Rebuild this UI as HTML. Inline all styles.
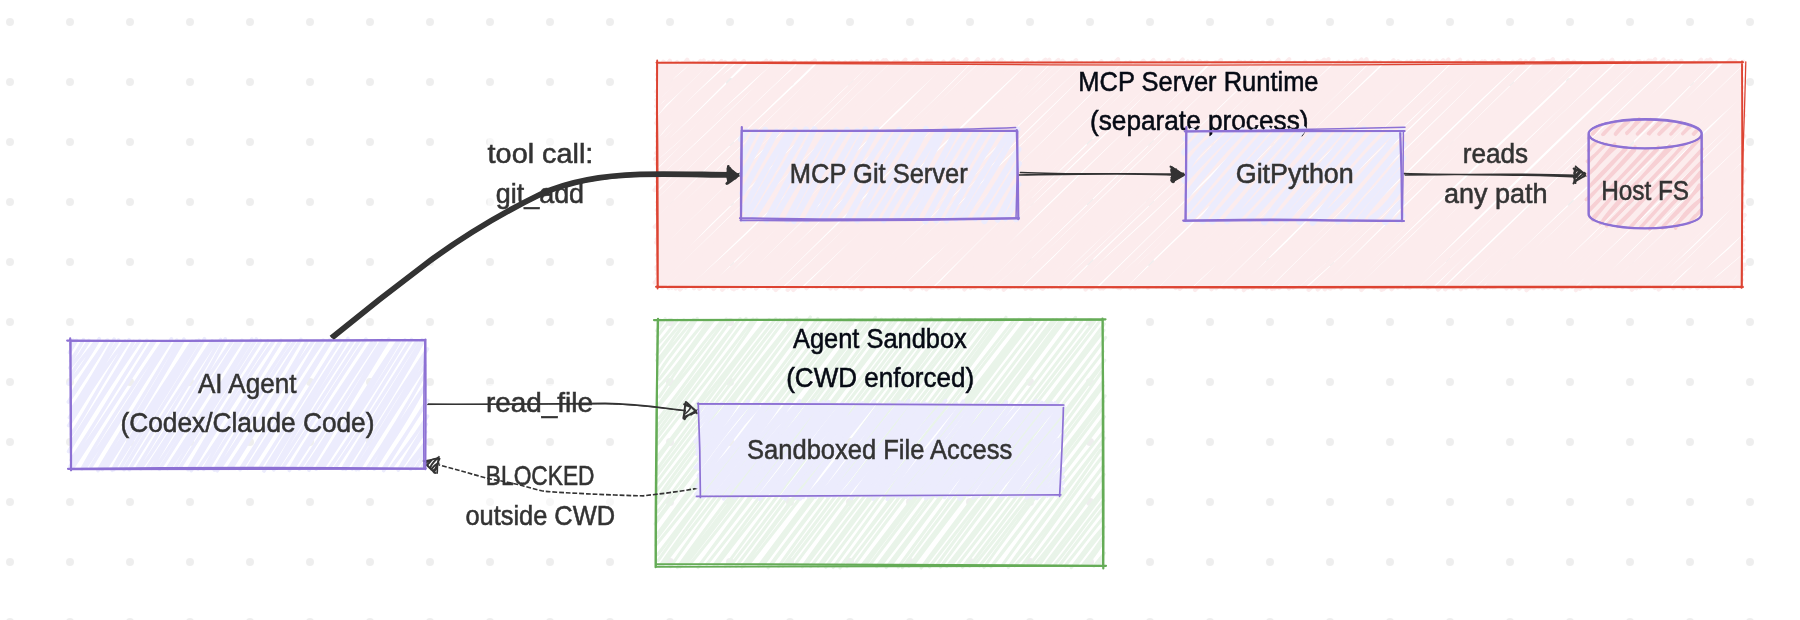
<!DOCTYPE html>
<html><head><meta charset="utf-8"><title>diagram</title>
<style>
html,body{margin:0;padding:0;background:#ffffff;}
body{width:1800px;height:620px;overflow:hidden;}
svg{display:block;will-change:transform;font-family:"Liberation Sans",sans-serif;font-size:27.5px;}
</style></head><body>
<svg width="1800" height="620" viewBox="0 0 1800 620">
<defs><pattern id="dots" x="-20" y="-8" width="60" height="60" patternUnits="userSpaceOnUse"><circle cx="30" cy="30" r="4" fill="#eeeeee"/></pattern></defs>
<rect width="1800" height="620" fill="#ffffff"/>
<rect width="1800" height="620" fill="url(#dots)"/>
<path d="M657.6 67.8C659.9 66.2 662.8 63.0 663.4 61.6M657.9 68.7C659.9 66.3 661.7 63.6 663.8 61.9M659.2 80.5C662.1 76.7 666.1 72.7 675.1 64.8M657.0 79.7C664.3 72.0 673.0 65.6 677.1 62.0M657.3 95.6C663.2 83.4 671.0 81.9 687.2 59.6M656.3 91.6C664.2 82.8 674.8 75.2 688.9 62.1M657.0 102.6C665.8 98.3 679.1 84.4 703.7 60.4M656.2 106.1C668.4 91.8 682.5 80.3 700.5 60.9M657.2 119.5C671.2 103.7 687.7 87.6 711.4 65.0M658.3 118.0C677.2 98.6 699.8 77.8 713.4 61.0M659.6 129.2C672.9 110.4 692.7 93.2 724.3 62.7M658.9 127.6C681.2 103.6 708.0 78.3 725.1 61.9M658.5 141.9C679.5 116.2 698.0 94.0 741.3 63.6M657.4 141.4C689.5 111.3 720.5 79.1 739.4 63.6M658.7 155.3C692.7 120.0 725.8 90.5 751.5 63.1M656.1 153.1C684.8 128.7 709.8 102.1 751.8 62.6M658.2 164.6C678.2 144.8 703.0 122.0 766.3 60.7M656.5 163.6C680.7 144.1 700.6 124.2 763.0 62.8M656.7 177.3C698.2 132.2 742.2 95.4 778.3 63.7M657.3 176.0C703.3 132.6 750.9 88.2 775.4 63.4M654.5 190.2C687.3 159.4 716.9 130.3 786.1 62.0M656.3 187.3C684.0 163.4 710.8 138.1 789.5 63.8M657.3 202.3C698.6 159.9 742.0 121.8 801.1 63.0M658.8 199.5C709.6 152.1 757.4 102.5 801.4 63.6M657.3 213.9C713.3 156.4 775.9 99.3 814.9 60.4M657.6 213.9C714.8 155.6 775.8 96.5 812.1 62.1M654.7 226.9C707.0 174.5 761.1 124.8 823.6 62.4M659.0 224.9C715.9 166.9 771.6 112.3 825.2 63.0M656.7 239.3C726.6 171.3 793.0 111.9 838.6 62.8M657.8 235.5C702.4 195.1 744.0 154.0 838.6 62.3M660.3 247.5C717.2 187.4 776.4 134.4 853.5 62.1M658.9 247.8C710.5 197.8 759.5 149.3 851.5 61.7M657.6 259.5C700.1 218.9 747.2 173.9 862.8 62.5M658.0 261.2C707.5 214.8 755.3 167.5 864.1 63.3M660.8 275.7C710.8 217.2 772.1 161.9 873.2 64.5M657.2 273.8C716.8 213.8 781.1 156.2 877.4 61.0M654.7 282.6C723.0 219.9 795.5 153.1 886.0 60.2M658.9 283.9C710.2 230.8 767.0 176.5 887.7 62.2M670.4 284.9C744.5 215.7 818.6 140.2 898.6 62.4M668.8 288.2C714.1 239.7 761.2 194.4 902.4 63.3M680.0 289.6C763.0 208.4 843.5 130.5 912.7 63.8M679.0 286.5C731.6 239.4 780.0 192.4 913.8 61.8M694.0 288.3C766.6 219.0 833.1 147.7 927.3 60.7M692.7 285.7C759.4 226.7 825.7 162.4 927.3 62.5M707.2 284.0C794.4 203.0 875.6 121.8 938.2 63.0M705.6 287.3C752.4 239.1 802.6 192.4 937.5 63.0M719.7 286.3C780.6 234.2 833.0 179.9 953.6 59.5M719.6 286.2C807.1 202.9 896.4 115.7 952.3 63.3M727.6 287.2C803.8 215.0 883.0 142.1 961.6 62.8M732.1 288.5C796.1 222.2 860.1 160.6 964.1 62.7M743.8 288.7C819.1 209.2 902.6 137.8 978.1 59.3M743.4 285.7C793.5 238.3 841.4 192.6 975.8 62.7M757.7 284.2C810.0 233.5 869.6 178.8 986.3 61.8M755.9 288.6C812.1 231.2 872.0 175.9 987.9 61.9M767.8 288.2C818.6 240.0 867.4 187.9 1001.7 59.6M767.2 285.8C827.1 228.3 887.8 167.7 1001.3 62.5M779.1 285.8C869.1 202.5 961.3 112.0 1012.2 61.4M779.4 287.2C845.3 226.4 908.8 165.2 1012.0 63.1M793.3 290.0C841.4 242.8 885.1 195.2 1027.4 59.6M791.5 287.4C841.0 237.4 893.0 187.1 1024.6 63.2M806.5 287.0C871.2 223.6 937.2 162.2 1037.4 64.4M806.4 288.3C882.8 211.2 959.0 136.5 1039.0 62.0M815.7 285.1C896.2 208.0 980.8 128.2 1049.3 59.8M816.4 286.9C893.6 215.7 968.5 139.1 1049.5 61.4M828.9 284.9C907.4 215.5 980.3 147.2 1062.8 60.7M830.5 288.5C916.3 202.0 1002.7 119.5 1064.0 61.9M841.1 283.8C899.8 228.2 961.2 173.1 1076.2 60.1M844.0 287.1C897.8 237.7 950.5 184.2 1074.3 63.2M853.7 288.4C937.1 205.8 1025.5 125.9 1088.5 64.6M856.6 285.7C915.7 227.8 975.4 170.3 1086.8 63.4M869.1 286.1C919.9 236.2 968.0 190.2 1103.5 64.5M868.4 286.1C947.1 213.1 1022.2 140.5 1101.4 61.3M879.1 286.3C945.2 224.5 1006.1 165.8 1111.8 65.2M881.3 285.7C950.8 216.2 1025.3 148.0 1111.8 62.0M890.2 286.4C941.8 242.3 994.9 190.7 1126.3 64.0M892.4 285.4C977.6 206.6 1064.3 125.0 1125.9 62.7M904.4 287.1C968.8 230.6 1030.1 165.9 1139.6 64.9M904.0 287.7C979.4 217.5 1050.6 148.9 1136.9 63.8M918.9 285.9C972.0 237.1 1019.3 186.8 1153.4 59.9M917.8 286.2C1007.4 202.8 1095.7 115.9 1149.1 63.4M928.1 287.3C984.8 226.7 1043.2 177.1 1165.7 63.3M929.7 287.3C991.2 225.6 1050.1 168.3 1161.6 61.9M941.5 287.9C1011.3 219.5 1082.8 153.1 1175.9 62.1M943.4 287.8C1007.7 224.3 1074.5 160.4 1175.0 62.1M957.7 285.8C1023.1 220.2 1099.6 151.7 1188.4 63.9M953.8 286.8C1015.4 230.0 1074.6 172.3 1187.8 61.4M970.6 288.1C1029.3 229.1 1086.5 172.2 1201.8 62.7M966.3 287.1C1059.4 198.5 1145.6 113.9 1199.7 60.9M977.0 283.9C1048.3 222.6 1110.7 163.9 1215.8 62.1M981.3 286.0C1038.2 230.4 1093.1 175.6 1213.9 63.9M989.9 288.5C1045.0 238.1 1104.1 183.4 1222.8 63.6M991.6 286.4C1083.6 200.8 1172.1 113.9 1225.7 63.2M1003.7 289.8C1093.4 202.1 1180.9 116.2 1240.8 61.9M1005.3 286.3C1075.1 221.4 1145.7 151.0 1238.5 61.5M1014.4 286.7C1072.5 230.7 1128.9 178.1 1248.0 62.7M1018.4 287.1C1094.6 213.5 1171.8 138.5 1251.6 61.2M1031.7 288.9C1107.8 213.3 1180.7 140.9 1263.1 62.3M1030.2 288.2C1076.6 238.4 1124.3 193.0 1262.4 62.1M1042.7 288.9C1088.8 236.2 1139.2 187.3 1273.9 63.1M1041.1 288.0C1113.4 217.2 1184.3 150.1 1276.2 63.2M1051.9 286.9C1121.3 226.7 1180.8 161.9 1289.2 59.3M1054.5 286.3C1110.6 231.5 1167.1 178.7 1288.4 63.1M1070.2 286.1C1139.6 220.6 1213.7 144.7 1299.4 63.3M1068.5 287.3C1118.6 238.4 1166.2 192.1 1299.6 63.2M1077.9 285.1C1134.5 234.1 1189.4 185.4 1313.7 64.7M1080.5 286.6C1135.7 233.2 1191.4 179.9 1312.2 63.7M1091.4 288.7C1158.6 226.5 1217.4 161.5 1324.2 59.6M1092.4 285.5C1180.3 200.3 1266.8 115.4 1325.3 60.8M1103.2 288.5C1179.3 214.4 1248.2 145.8 1338.9 61.7M1104.1 286.5C1166.8 224.4 1230.7 164.1 1337.7 63.3M1118.5 288.1C1196.1 215.6 1269.2 139.0 1347.3 61.8M1116.7 287.0C1183.3 223.8 1248.5 162.3 1348.9 62.8M1130.3 288.3C1192.9 229.6 1251.8 167.3 1361.5 59.4M1130.0 286.9C1196.5 223.1 1260.8 160.3 1363.7 62.5M1145.2 286.1C1198.0 236.1 1254.5 180.7 1375.7 61.7M1143.5 286.6C1210.4 220.4 1273.8 158.3 1374.3 61.8M1153.0 283.7C1211.7 231.9 1265.2 179.0 1388.4 62.6M1156.2 286.5C1229.5 213.8 1305.0 140.2 1388.0 62.9M1167.6 286.1C1219.2 236.6 1274.8 181.1 1398.2 61.2M1165.7 285.6C1220.6 236.4 1275.5 182.7 1400.7 62.2M1179.7 288.9C1267.9 205.5 1354.0 121.5 1411.2 61.2M1179.9 286.7C1260.7 206.8 1343.0 128.4 1411.1 61.9M1195.0 290.1C1247.0 234.6 1304.0 181.0 1424.1 65.1M1190.9 285.5C1286.0 197.4 1380.8 106.0 1424.2 60.8M1206.8 285.6C1268.6 224.7 1335.0 165.3 1436.6 63.6M1203.5 285.7C1276.6 218.3 1347.1 148.4 1436.7 60.7M1217.0 286.1C1292.1 212.3 1366.5 144.7 1448.5 59.5M1216.1 288.2C1272.1 231.3 1328.2 178.1 1448.3 62.5M1232.8 286.6C1289.2 229.4 1344.4 167.5 1460.1 59.8M1228.9 287.0C1278.6 236.6 1331.7 187.7 1462.3 63.3M1243.8 290.2C1303.2 225.6 1370.3 161.1 1473.1 65.0M1241.7 286.6C1289.8 243.3 1336.5 196.7 1474.2 61.6M1252.6 288.6C1306.4 237.9 1355.0 185.0 1484.8 61.3M1254.2 286.4C1323.4 224.2 1388.9 159.6 1486.6 63.1M1266.4 288.3C1329.4 222.5 1399.2 162.7 1498.5 60.2M1267.4 286.6C1328.4 226.7 1391.5 167.9 1500.8 62.7M1279.1 288.1C1329.3 235.3 1379.9 186.7 1512.6 62.4M1279.8 287.3C1328.3 239.7 1374.9 196.1 1512.9 61.7M1295.1 286.9C1353.8 227.9 1421.8 165.5 1526.8 64.2M1293.1 287.7C1359.3 222.1 1430.3 153.2 1525.8 61.3M1304.3 285.3C1356.1 239.8 1405.8 189.5 1539.7 64.2M1302.9 286.5C1359.8 238.2 1410.9 184.3 1536.7 63.4M1317.7 289.5C1366.1 238.2 1415.6 191.5 1546.4 61.3M1317.2 287.6C1376.5 227.7 1439.4 169.7 1548.4 61.0M1330.6 288.5C1393.0 222.5 1456.4 160.4 1562.9 61.8M1329.4 288.4C1414.0 206.1 1498.3 123.9 1561.3 63.5M1341.1 288.6C1420.7 209.3 1495.2 133.8 1573.1 61.9M1342.4 286.2C1433.4 197.1 1525.9 109.6 1574.3 61.8M1356.9 284.3C1427.2 216.5 1503.6 147.0 1586.0 64.9M1354.2 286.5C1447.0 198.2 1538.4 111.5 1588.5 63.9M1370.0 284.2C1451.0 203.3 1537.3 119.9 1602.7 60.4M1367.6 285.6C1431.0 226.4 1496.3 165.1 1598.7 63.3M1381.6 289.9C1434.1 235.8 1482.6 188.8 1612.2 59.8M1378.0 287.2C1462.2 205.2 1546.7 125.5 1612.9 61.5M1391.5 289.3C1446.0 234.3 1503.0 180.4 1624.6 61.7M1391.5 285.4C1464.0 213.5 1541.0 140.7 1623.3 62.4M1406.5 284.0C1462.1 225.1 1521.7 166.9 1639.6 61.2M1405.7 287.2C1472.8 219.6 1541.8 150.8 1637.7 61.5M1416.4 284.1C1488.2 218.1 1555.0 154.9 1648.7 60.5M1416.6 286.1C1469.2 238.4 1518.0 188.7 1650.9 60.7M1427.9 287.7C1492.9 225.0 1555.8 165.0 1663.5 59.4M1430.1 286.8C1482.3 238.6 1531.3 190.4 1660.5 63.9M1442.6 284.1C1503.3 223.5 1563.7 167.6 1677.1 63.2M1441.9 285.4C1488.1 239.6 1535.5 195.5 1675.7 60.9M1453.7 284.5C1535.0 210.1 1614.9 127.3 1689.0 63.4M1453.5 288.5C1528.1 220.5 1599.0 149.3 1686.9 63.4M1465.8 288.1C1540.0 221.1 1606.9 154.2 1701.1 59.7M1465.6 286.5C1548.0 207.8 1630.5 130.1 1698.9 62.5M1477.9 288.3C1551.1 212.1 1628.1 142.9 1710.2 59.5M1478.9 287.4C1564.7 205.6 1650.8 121.9 1711.7 61.4M1492.8 287.4C1551.2 229.3 1609.3 174.6 1726.0 64.3M1490.6 287.1C1541.7 237.7 1593.3 189.9 1725.5 63.7M1506.4 288.5C1592.3 198.6 1681.5 112.8 1735.1 60.9M1503.3 286.3C1563.2 230.8 1623.5 173.4 1737.9 63.5M1519.2 288.8C1593.0 207.9 1675.6 134.4 1743.9 67.5M1518.0 287.0C1582.8 222.2 1647.2 160.9 1740.7 70.7M1526.5 290.2C1610.4 210.9 1689.8 131.3 1739.2 78.2M1530.1 287.9C1594.0 220.2 1661.0 155.9 1742.1 80.8M1538.7 286.9C1610.5 224.1 1678.9 152.6 1740.7 92.3M1542.9 288.4C1609.2 220.6 1674.8 153.2 1742.3 93.9M1556.9 283.9C1625.6 219.1 1703.8 143.4 1738.9 107.5M1554.8 288.0C1615.7 224.0 1681.8 165.6 1743.1 105.1M1567.0 287.2C1600.1 254.5 1636.5 217.2 1744.5 115.3M1567.3 286.5C1606.8 248.6 1647.2 209.1 1741.2 118.7M1580.0 288.9C1622.1 242.5 1666.0 202.6 1740.2 128.9M1580.2 288.6C1643.8 223.6 1710.1 163.0 1741.5 130.4M1593.4 283.8C1638.7 239.9 1683.8 197.1 1739.7 139.6M1590.8 288.4C1645.5 231.8 1704.7 175.4 1740.8 142.1M1601.4 285.5C1660.7 232.5 1709.6 182.3 1739.1 152.3M1604.0 287.2C1638.4 255.5 1671.7 222.4 1741.1 152.2M1615.2 287.4C1663.3 243.0 1716.1 194.2 1742.7 167.9M1617.9 285.4C1654.7 250.0 1689.2 213.7 1740.9 166.4M1629.8 286.8C1653.7 257.2 1682.1 230.7 1740.4 178.4M1628.2 286.5C1661.1 257.0 1690.6 227.0 1741.9 177.1M1639.1 287.1C1682.8 247.2 1716.4 212.4 1740.3 190.3M1639.9 287.6C1663.2 265.1 1687.0 243.8 1742.0 189.3M1653.5 284.3C1676.0 265.0 1699.3 246.6 1740.6 201.4M1654.8 288.0C1671.6 270.3 1691.5 250.2 1742.2 203.2M1665.2 285.0C1683.4 270.3 1706.8 252.3 1744.7 215.0M1667.2 285.9C1694.2 259.6 1719.6 235.3 1740.4 213.9M1679.6 284.2C1699.7 264.2 1722.1 249.5 1740.8 223.8M1679.1 285.8C1700.6 264.2 1722.5 245.8 1742.9 227.1M1690.2 283.9C1705.6 273.0 1722.7 255.9 1743.8 239.2M1690.2 287.5C1707.4 273.8 1721.6 258.9 1743.3 237.2M1702.2 287.1C1718.4 269.6 1735.9 258.3 1741.8 251.6M1702.8 286.4C1712.0 276.2 1722.6 268.5 1743.5 250.4M1713.7 286.6C1723.7 282.3 1729.3 275.3 1744.9 264.6M1716.2 286.0C1723.4 279.0 1727.9 274.4 1741.3 262.7M1728.4 286.8C1731.9 282.3 1739.7 279.2 1740.4 272.5M1727.9 286.9C1732.1 284.2 1735.2 280.7 1742.3 274.3M1741.0 286.9C1741.3 286.8 1741.4 286.7 1742.1 286.1M1741.0 287.0C1741.3 286.8 1741.7 286.4 1742.0 286.2" fill="none" stroke="#fceced" stroke-width="4.15" stroke-linecap="round"/>
<path d="M657.2 74.5C661.1 68.7 666.9 64.3 669.8 60.7M657.5 74.7C659.9 71.0 663.4 69.3 670.2 62.5M658.5 85.2C663.6 77.7 676.6 70.0 682.1 63.2M658.5 85.4C662.3 79.5 667.9 74.4 682.7 63.3M657.8 96.9C664.7 90.8 678.3 81.8 693.2 62.6M656.4 100.0C670.3 84.0 684.6 71.4 695.5 63.8M656.5 113.6C671.6 93.4 685.0 80.4 705.4 65.1M657.6 109.4C677.4 93.1 695.9 73.0 708.7 62.1M656.9 123.8C681.8 101.4 700.6 77.3 719.3 64.1M656.2 123.0C676.3 103.6 697.4 83.8 721.4 60.9M657.2 136.0C672.7 116.0 696.3 96.6 734.8 60.4M657.2 133.2C683.8 110.3 708.9 86.2 732.5 62.4M657.5 148.4C677.0 128.4 693.5 108.2 743.9 61.0M657.2 147.7C691.9 114.0 725.4 80.0 743.5 61.4M655.0 159.1C687.9 132.1 716.6 103.1 755.7 65.5M656.8 158.2C689.8 127.7 722.3 95.9 757.0 62.9M660.6 173.4C698.1 126.8 743.9 86.0 771.3 62.1M658.6 171.1C696.0 132.5 732.9 94.7 771.0 61.3M657.1 181.9C698.8 144.5 741.0 102.6 784.8 65.4M658.4 183.9C706.3 135.0 758.0 88.4 782.4 61.4M658.1 194.3C692.1 157.9 731.0 123.9 792.6 64.4M657.9 194.6C699.9 154.3 744.4 111.7 794.5 60.9M656.8 210.0C701.7 169.6 742.6 126.8 805.1 63.0M657.6 205.6C687.7 176.0 719.8 145.8 806.6 62.7M660.6 217.4C706.7 171.4 758.1 125.4 818.4 65.3M658.8 217.8C690.4 188.1 723.5 153.4 821.1 63.8M658.9 234.0C697.5 193.6 732.8 157.6 835.4 63.3M658.3 229.6C725.1 165.8 788.6 102.2 832.7 61.1M658.0 245.0C725.2 175.0 794.0 111.0 845.2 62.4M656.1 242.5C729.6 173.3 801.4 103.1 845.6 63.3M657.0 255.1C720.9 193.7 782.4 133.2 859.9 64.3M658.6 255.8C733.3 185.1 804.0 112.9 856.7 61.3M656.6 269.6C733.9 193.5 809.5 121.6 866.6 62.9M656.4 267.3C741.3 185.4 825.1 101.6 871.0 61.5M657.0 279.0C740.0 203.2 819.1 125.8 883.6 60.2M658.7 280.1C740.7 198.4 825.3 119.1 882.5 63.8M662.1 287.1C756.0 202.3 843.4 115.7 897.5 61.6M661.3 285.9C740.8 208.7 822.7 129.7 894.5 61.8M671.8 287.7C748.5 216.4 827.3 140.9 905.4 59.6M675.7 288.5C749.8 216.6 826.5 140.7 907.8 63.1M683.9 286.2C757.0 218.0 827.6 143.8 917.0 59.8M685.5 287.6C751.5 223.4 819.6 158.5 920.3 62.7M699.3 288.8C788.5 204.1 877.4 119.2 932.2 63.2M700.6 288.1C747.8 238.2 797.8 192.7 931.0 60.8M713.5 289.0C759.7 236.9 810.7 187.6 944.0 64.2M710.1 286.7C766.5 238.6 815.9 188.3 943.6 61.4M722.2 289.7C779.0 234.8 836.0 181.9 953.7 61.5M723.7 286.9C807.6 207.9 889.3 130.5 957.8 61.1M734.0 289.3C788.5 239.9 838.8 193.3 966.4 59.3M737.1 288.1C814.8 211.8 893.4 137.5 967.9 63.1M751.3 286.9C822.6 212.5 905.1 137.0 980.7 65.4M748.3 286.2C826.9 211.3 902.3 139.5 982.1 62.9M761.2 284.5C809.8 239.6 860.4 188.5 993.6 59.7M762.7 285.9C844.7 206.6 928.8 128.3 993.6 61.2M775.7 290.0C861.6 202.9 942.8 122.1 1004.8 62.5M774.0 288.4C833.1 232.4 890.9 175.8 1007.8 63.2M787.6 289.9C862.8 216.8 933.7 150.9 1022.3 63.5M786.9 286.9C848.1 229.9 907.8 168.6 1017.8 63.1M799.3 286.0C854.6 234.6 911.1 177.3 1032.2 65.2M798.5 287.0C854.5 235.3 907.7 184.4 1032.0 62.3M812.2 286.4C890.4 211.0 959.3 138.0 1045.5 59.6M812.0 285.4C893.9 211.6 975.7 131.6 1045.6 62.5M825.3 284.7C887.0 222.5 950.0 159.1 1058.4 60.0M824.5 285.6C890.7 226.8 953.0 165.4 1057.4 60.7M835.6 288.6C881.7 239.2 928.5 193.0 1071.5 62.2M836.1 288.5C914.4 207.9 997.8 130.7 1068.7 63.4M851.2 287.1C910.0 230.8 964.2 173.0 1079.7 63.1M850.0 288.1C908.1 228.4 969.3 168.2 1081.5 63.0M861.1 289.4C939.2 213.8 1014.9 138.0 1093.7 63.5M860.0 285.5C929.8 223.3 997.1 158.1 1093.3 62.1M870.8 286.7C944.8 222.8 1010.8 158.0 1107.8 64.4M874.9 286.6C963.0 204.2 1048.9 123.2 1106.4 63.4M885.1 284.3C937.1 234.1 992.4 182.0 1118.1 59.2M886.6 286.5C954.1 223.8 1025.2 155.8 1119.6 62.6M895.9 285.2C962.0 232.1 1016.6 176.7 1130.5 64.6M900.1 285.8C958.4 227.3 1021.2 169.5 1130.4 62.0M910.9 289.6C966.9 238.8 1017.4 185.2 1143.5 60.6M909.9 287.0C959.0 240.1 1005.8 193.4 1144.8 62.2M926.4 289.4C968.6 240.6 1016.7 194.5 1155.8 64.6M922.4 288.3C984.0 229.8 1046.9 172.1 1155.4 62.4M937.0 287.3C997.8 229.4 1053.7 172.4 1168.9 60.0M937.7 287.0C995.9 225.9 1057.5 167.2 1168.6 63.9M948.5 285.1C1034.7 206.1 1119.7 125.9 1182.7 59.4M948.7 288.1C1006.5 233.2 1064.5 177.4 1182.6 63.9M964.4 289.5C1018.6 225.9 1082.4 168.6 1194.5 62.4M960.6 286.5C1032.8 215.0 1104.6 146.7 1192.4 61.5M974.8 287.8C1036.7 224.2 1096.3 163.6 1204.7 62.4M972.2 286.1C1045.7 220.1 1119.4 150.7 1206.9 62.0M987.4 288.3C1067.8 207.8 1151.4 129.5 1221.0 60.0M985.2 287.9C1048.8 226.6 1112.3 163.4 1219.4 61.5M997.3 287.8C1070.2 217.9 1135.2 152.5 1229.2 62.9M1000.3 286.4C1052.0 234.4 1107.3 181.9 1230.6 63.0M1011.5 286.7C1100.5 202.7 1185.7 119.9 1241.4 63.6M1010.2 287.2C1094.1 210.8 1176.7 130.3 1244.9 61.9M1025.6 288.9C1108.3 204.0 1185.5 123.7 1258.0 62.4M1025.1 287.2C1093.6 222.0 1164.1 154.8 1256.5 63.3M1036.3 285.7C1109.2 217.7 1189.7 145.2 1270.6 61.7M1036.1 287.6C1125.1 200.6 1216.9 114.5 1269.6 62.2M1047.1 283.9C1119.8 220.6 1186.7 154.8 1278.5 59.7M1048.0 286.8C1105.6 230.1 1160.9 174.7 1280.2 62.5M1061.1 284.8C1114.2 238.4 1165.6 184.5 1293.7 64.9M1060.6 288.4C1135.7 212.9 1211.6 142.2 1294.7 62.8M1071.8 284.6C1161.9 202.5 1254.4 116.3 1306.5 63.5M1073.6 285.6C1155.8 203.0 1242.9 122.8 1305.1 61.8M1085.5 289.6C1178.7 199.1 1271.1 110.1 1320.4 61.6M1086.4 286.5C1152.8 221.1 1219.8 155.4 1317.3 60.9M1101.2 288.2C1163.2 226.8 1227.2 166.1 1328.5 59.1M1100.0 288.6C1190.6 197.6 1282.1 110.7 1329.9 63.3M1113.4 286.7C1194.6 202.4 1281.0 117.8 1342.9 62.2M1111.2 285.6C1157.1 243.1 1206.4 199.0 1344.6 63.3M1120.3 288.2C1194.8 218.5 1268.2 145.7 1355.6 60.6M1124.6 286.4C1178.2 230.7 1232.8 178.1 1355.5 63.9M1138.6 287.3C1211.9 213.3 1287.5 138.2 1366.5 59.2M1135.1 288.3C1217.5 208.4 1297.7 131.0 1367.6 61.4M1151.3 284.7C1238.2 197.6 1324.9 112.7 1379.3 62.9M1147.7 287.9C1205.1 235.5 1261.2 177.7 1380.3 62.3M1163.4 286.1C1242.0 208.7 1324.6 131.6 1393.6 60.2M1162.3 286.7C1210.7 236.0 1263.6 187.4 1393.3 60.9M1175.6 288.1C1263.3 199.6 1352.9 106.5 1408.2 62.4M1172.6 285.9C1250.6 211.0 1329.6 135.0 1407.0 61.8M1185.6 285.1C1256.5 221.6 1324.7 150.9 1417.7 61.0M1185.9 286.5C1274.1 201.0 1364.5 115.3 1419.1 61.1M1198.5 285.4C1274.4 214.1 1349.7 138.9 1429.8 61.3M1196.8 286.6C1290.1 198.6 1383.6 113.2 1430.0 62.6M1211.4 289.2C1267.0 234.6 1318.7 185.3 1443.2 60.2M1209.5 285.4C1288.2 213.5 1361.5 141.9 1443.4 60.7M1224.4 287.2C1285.3 230.2 1344.0 171.0 1456.2 63.1M1223.3 287.3C1296.4 214.6 1373.0 141.4 1456.7 61.5M1234.9 286.0C1297.1 224.4 1367.6 155.6 1468.1 61.6M1235.4 288.6C1293.1 229.0 1351.0 172.9 1468.2 62.6M1248.1 287.7C1308.8 225.5 1377.5 166.3 1481.3 63.1M1246.8 286.8C1296.6 243.0 1343.5 197.2 1482.0 61.5M1263.4 286.9C1318.7 229.7 1376.7 170.6 1492.5 62.2M1259.1 287.1C1325.2 222.7 1390.0 160.9 1492.4 61.5M1272.0 289.1C1340.3 220.1 1413.9 152.6 1506.5 64.5M1274.5 288.5C1340.6 221.8 1408.9 156.6 1505.6 62.8M1288.9 288.5C1369.3 204.9 1453.0 121.8 1520.4 60.2M1285.4 285.6C1359.5 212.8 1435.8 140.9 1517.0 62.1M1298.9 284.0C1381.4 209.3 1466.4 123.9 1533.6 59.1M1297.4 285.8C1374.1 218.2 1445.7 145.8 1530.9 61.4M1308.6 289.9C1404.2 199.7 1492.3 115.4 1543.9 62.9M1309.6 288.1C1377.2 226.1 1441.9 162.4 1542.9 62.6M1324.7 289.4C1384.8 232.0 1440.7 172.0 1552.9 59.2M1324.4 287.6C1398.8 215.5 1472.9 143.7 1555.3 62.4M1336.0 286.2C1392.0 227.6 1457.7 171.5 1567.6 60.1M1334.3 287.6C1414.5 214.4 1489.1 141.0 1568.3 61.4M1349.3 286.7C1434.5 201.4 1528.8 110.9 1578.5 64.0M1348.6 286.6C1403.5 231.4 1463.0 174.4 1581.4 62.5M1361.3 290.0C1441.6 205.6 1530.8 124.4 1593.7 64.2M1359.9 286.8C1424.3 227.3 1489.9 165.2 1593.7 63.2M1374.2 287.9C1432.1 229.6 1488.3 172.3 1606.9 61.8M1371.4 286.2C1421.0 238.1 1470.5 189.0 1606.2 62.8M1383.4 289.1C1439.6 240.3 1495.7 188.1 1621.2 63.3M1385.3 287.6C1460.7 211.9 1538.6 137.2 1618.7 63.7M1400.2 284.8C1466.3 220.2 1539.3 153.2 1629.4 62.9M1397.8 287.6C1458.9 228.2 1520.6 167.8 1629.6 61.7M1413.1 285.9C1507.1 194.7 1598.0 106.0 1643.3 63.1M1409.7 287.8C1496.9 205.5 1584.1 122.2 1644.4 62.0M1424.0 286.6C1472.1 241.5 1524.1 189.9 1655.2 59.1M1423.6 285.8C1475.0 239.0 1525.4 187.1 1655.1 62.6M1438.1 289.6C1500.5 219.1 1567.4 151.7 1667.4 61.9M1436.9 287.7C1507.3 216.9 1582.3 142.4 1668.6 61.1M1445.2 289.4C1528.1 210.7 1604.7 134.1 1681.4 60.6M1449.2 287.6C1541.2 199.7 1631.9 113.6 1679.2 63.3M1460.8 289.2C1533.2 217.3 1600.3 152.1 1691.9 63.1M1461.3 287.8C1546.1 205.9 1633.0 124.3 1694.2 62.2M1471.2 284.5C1537.5 225.1 1603.0 159.3 1706.8 60.2M1471.7 287.1C1556.6 209.8 1638.1 131.3 1704.1 62.6M1488.5 283.8C1575.9 201.0 1664.7 119.7 1715.5 65.0M1485.0 287.9C1566.3 212.0 1644.3 138.0 1716.5 62.4M1494.9 287.2C1583.6 207.7 1666.1 131.8 1730.4 59.7M1498.8 285.4C1547.1 241.7 1593.1 196.3 1731.4 61.3M1511.4 288.2C1570.1 234.1 1631.1 171.9 1740.3 64.2M1510.7 286.4C1589.1 210.5 1671.1 129.8 1743.5 61.8M1519.9 285.8C1572.8 239.5 1625.2 189.8 1741.8 78.4M1524.3 287.0C1571.5 241.7 1621.8 194.3 1740.5 74.1M1536.8 285.4C1574.4 249.2 1616.4 207.0 1739.1 87.2M1534.0 288.2C1593.7 228.1 1652.8 170.4 1742.3 87.2M1546.2 286.1C1602.0 234.3 1656.6 187.8 1743.1 100.8M1548.2 287.9C1625.2 211.5 1704.6 138.2 1742.6 98.0M1561.6 289.3C1629.2 224.1 1695.9 155.8 1739.5 108.8M1560.3 287.1C1625.3 222.4 1688.5 159.7 1743.6 111.4M1575.9 290.2C1634.8 227.1 1697.3 171.9 1742.4 122.5M1572.0 286.6C1628.2 235.2 1684.8 182.4 1741.8 123.4M1586.1 286.0C1627.7 241.1 1671.4 201.7 1744.2 136.0M1583.8 287.4C1619.0 257.8 1651.2 224.6 1742.8 134.8M1597.4 285.2C1624.8 262.1 1655.9 228.8 1743.0 150.0M1598.9 286.9C1640.7 243.3 1682.6 204.2 1741.2 147.7M1612.8 285.7C1646.4 256.4 1679.7 222.9 1738.9 157.3M1609.2 287.0C1640.0 259.7 1667.6 234.0 1740.7 160.3M1621.2 284.7C1665.3 244.5 1710.5 206.8 1744.6 169.6M1622.5 287.3C1655.0 255.2 1686.9 223.7 1742.0 173.2M1631.8 289.7C1664.5 258.7 1690.2 231.4 1743.3 181.1M1636.5 288.3C1678.4 246.4 1719.0 205.5 1742.8 183.1M1647.6 285.7C1684.9 251.8 1720.1 215.1 1742.1 195.0M1648.1 285.8C1673.2 263.1 1694.3 240.0 1743.0 194.7M1658.6 289.5C1680.0 268.1 1702.0 247.9 1743.6 206.5M1659.9 286.9C1680.5 269.1 1699.9 250.1 1742.6 207.5M1675.2 285.1C1696.5 264.7 1720.1 243.6 1740.7 221.8M1673.3 288.2C1687.5 272.0 1706.1 255.8 1743.5 220.1M1681.8 286.4C1704.7 262.3 1729.5 241.3 1739.4 234.9M1683.4 288.2C1698.9 272.0 1711.5 259.4 1742.5 231.9M1696.9 287.5C1715.9 274.2 1730.8 255.9 1742.9 245.1M1697.3 288.2C1713.1 272.2 1727.9 255.5 1742.1 244.4M1709.0 284.8C1724.0 274.2 1735.0 265.7 1741.7 258.5M1708.9 287.6C1717.2 277.4 1727.5 271.1 1743.2 256.9M1724.1 286.7C1728.0 281.2 1731.7 274.9 1743.3 269.2M1721.6 287.0C1726.4 283.0 1733.3 277.1 1741.7 267.1M1734.3 287.6C1737.2 284.3 1738.8 282.2 1742.0 280.0M1734.7 287.1C1736.6 284.9 1738.2 283.7 1741.8 280.0" fill="none" stroke="#fceced" stroke-width="4.15" stroke-linecap="round"/>
<path d="M656.5 62.6Q1199.8 62.4 1743.2 62.1M1742.0 61.5Q1742.6 174.8 1741.6 288.0M1743.0 287.0Q1199.5 288.1 656.0 286.8M657.6 288.5Q656.4 174.5 657.2 60.5" fill="none" stroke="#dd4433" stroke-width="1.90" stroke-linecap="round"/>
<path d="M657.0 62.7Q900.0 64.2 1050.0 64.8Q1200.0 65.4 1350.0 64.8Q1500.0 64.3 1742.5 62.5M1745.8 61.8Q1744.6 110.0 1743.6 135.0Q1742.6 160.0 1742.0 287.0M1742.0 286.5Q1199.5 286.3 657.0 287.3M657.9 287.0Q658.5 174.5 656.8 62.0" fill="none" stroke="#dd4433" stroke-width="1.30" stroke-linecap="round"/>
<path d="M658.0 323.3C658.8 322.5 659.9 321.2 660.5 320.1M656.6 330.7C659.9 326.2 662.5 322.7 665.2 318.7M657.2 336.3C660.9 332.5 663.5 327.4 671.3 319.5M657.4 344.2C663.0 339.7 666.9 333.5 677.4 320.1M656.6 354.5C662.9 345.0 672.4 333.8 683.7 319.8M656.6 360.4C665.6 352.6 669.6 342.0 687.2 320.6M658.2 364.3C668.5 349.6 683.4 331.8 693.6 319.3M657.8 375.2C665.6 359.1 678.2 348.2 697.2 318.3M659.3 379.3C671.3 364.8 683.4 346.7 705.8 320.6M657.4 388.5C675.0 370.0 689.6 348.9 709.4 320.8M659.3 397.0C674.2 374.1 689.0 351.3 713.4 320.6M659.0 404.1C679.9 374.2 701.8 343.8 721.7 321.0M657.2 408.4C680.1 380.0 703.1 351.1 726.3 319.0M659.2 417.9C686.6 383.1 711.8 346.0 730.0 321.4M657.3 425.9C685.2 390.0 711.2 354.5 738.2 321.0M657.0 432.4C678.0 403.9 696.8 378.6 740.1 318.4M656.6 438.6C679.3 408.8 701.8 379.5 746.0 318.3M657.7 444.0C692.3 399.2 727.1 355.3 753.1 319.0M658.5 455.2C688.1 417.3 713.3 381.9 756.9 318.9M657.2 460.0C680.6 427.0 707.5 395.3 765.3 321.4M657.1 469.3C701.7 408.2 745.6 349.1 769.2 319.5M656.2 475.8C701.6 416.6 742.4 359.8 775.7 318.7M656.3 482.9C697.0 428.4 737.3 374.2 779.9 319.7M657.0 490.2C700.1 435.4 737.5 382.5 784.6 319.9M657.6 497.8C695.5 443.6 737.3 390.5 792.3 320.9M657.3 503.4C705.7 437.7 753.6 373.2 796.7 317.8M657.7 511.8C710.0 443.2 758.1 375.5 799.9 320.0M657.3 518.9C692.6 471.7 727.3 426.3 806.5 320.2M655.1 523.9C703.8 459.1 753.1 395.6 810.3 317.0M658.2 532.9C709.2 462.6 761.3 393.9 817.8 318.5M657.4 537.3C715.7 460.6 771.1 386.2 821.3 320.5M655.8 545.2C721.7 465.2 780.3 381.6 830.0 320.2M657.6 554.7C715.3 478.3 771.7 403.8 834.9 321.2M658.2 560.4C710.8 485.8 766.5 412.6 840.9 319.7M659.5 566.3C711.6 492.4 766.3 420.7 844.5 321.3M662.7 565.3C710.2 504.4 758.9 441.5 849.8 319.6M670.5 566.8C709.7 510.3 750.8 455.4 854.3 319.6M677.4 567.7C724.0 501.7 774.6 439.7 862.5 320.2M680.2 567.0C722.3 514.8 759.2 460.9 865.5 321.7M685.8 564.3C725.2 514.7 764.6 461.5 870.4 321.7M690.2 564.0C743.0 498.8 795.3 429.5 875.4 317.3M698.0 567.6C755.1 488.2 815.4 410.0 881.3 319.1M700.0 564.3C768.1 476.2 837.6 385.9 885.7 319.9M706.6 564.5C755.8 502.8 804.0 439.8 893.2 319.0M714.0 565.0C774.7 483.5 833.7 400.8 897.9 318.9M717.4 564.6C756.5 513.2 798.7 463.0 905.0 318.9M725.3 566.7C773.2 500.3 822.9 435.4 909.3 321.1M730.1 566.3C779.0 503.3 826.9 438.5 916.0 318.5M736.1 566.5C775.0 515.3 811.5 463.0 920.2 320.4M741.9 567.0C788.0 505.6 832.5 442.7 927.2 319.6M743.7 566.3C784.3 510.8 827.0 456.5 931.3 318.2M749.5 563.3C809.2 486.8 868.7 409.8 935.4 320.6M758.6 566.1C820.4 483.9 883.1 399.1 941.9 319.0M763.4 564.9C827.4 477.9 892.9 393.5 949.2 321.0M768.1 567.8C831.4 483.1 897.2 395.4 952.1 319.8M771.8 564.0C842.4 471.8 913.1 377.6 959.4 318.1M778.5 566.6C836.0 484.8 897.5 407.7 964.8 320.1M782.9 566.2C841.1 489.8 894.3 414.2 969.5 319.9M789.4 563.8C847.2 487.7 908.1 407.1 975.2 319.5M794.3 565.6C856.5 481.7 919.3 400.0 979.7 321.3M802.4 566.9C868.9 475.3 932.8 386.4 985.5 319.9M805.7 565.5C870.0 480.7 935.7 395.2 991.2 321.5M810.7 566.7C876.1 481.3 943.4 393.2 996.6 320.2M818.2 566.4C874.4 488.8 933.6 412.2 1001.2 319.4M822.5 563.7C893.9 468.9 966.3 371.0 1006.0 317.2M825.7 567.3C877.8 498.2 927.8 429.4 1014.0 319.9M833.1 567.5C884.1 498.0 933.4 427.0 1019.0 319.1M840.0 568.1C909.3 472.4 981.5 378.9 1026.8 319.5M842.0 564.6C898.3 491.5 952.5 422.1 1030.2 318.3M846.9 566.7C922.1 467.6 992.2 372.6 1032.9 320.0M854.9 564.2C895.4 508.6 939.2 450.9 1039.9 319.9M861.8 565.5C919.7 490.2 976.1 413.1 1046.1 320.4M865.1 565.6C903.0 514.4 943.9 463.8 1053.0 319.6M870.0 564.8C943.1 468.1 1013.3 375.2 1056.7 319.5M876.6 566.7C934.0 489.9 991.2 412.9 1061.0 319.8M881.6 564.5C929.6 503.1 974.9 440.9 1065.8 318.5M886.2 567.6C959.4 472.1 1027.9 381.7 1073.4 321.7M891.7 564.1C933.9 508.5 972.1 455.6 1075.5 317.3M898.3 567.2C966.0 474.6 1036.8 379.7 1081.6 320.7M902.4 567.7C957.7 493.0 1012.7 420.8 1089.0 320.4M908.9 566.5C952.8 508.4 992.6 453.6 1094.5 321.3M913.5 564.6C965.3 495.0 1020.4 424.7 1100.5 320.4M921.1 568.1C986.2 479.7 1052.5 394.7 1104.3 324.0M925.2 565.2C974.2 502.0 1019.3 439.6 1104.0 330.3M929.6 567.0C968.9 515.2 1007.8 467.7 1105.6 337.5M936.7 565.4C971.9 515.8 1009.6 469.0 1102.0 342.5M940.6 567.2C985.9 504.7 1028.9 448.4 1103.3 351.4M946.8 566.6C996.1 504.5 1040.7 440.8 1104.8 360.2M951.0 565.7C987.5 519.4 1021.2 473.9 1102.8 364.4M956.6 566.1C1008.5 498.7 1059.3 433.8 1101.5 371.8M962.5 567.3C1004.7 513.9 1041.5 461.9 1102.9 381.9M969.6 566.3C1018.7 501.3 1068.4 433.9 1103.3 385.7M974.4 565.1C1021.8 505.3 1071.8 439.6 1105.2 395.8M979.5 566.1C1010.7 526.1 1040.0 485.1 1103.7 401.2M984.0 567.4C1017.5 519.8 1051.3 477.1 1102.0 409.1M991.0 566.9C1023.8 523.5 1057.2 478.9 1104.4 416.7M993.8 563.6C1037.2 507.5 1079.6 450.5 1101.9 422.0M1002.2 565.4C1024.2 534.2 1048.0 501.0 1103.3 431.9M1008.4 567.4C1038.8 523.5 1072.3 481.2 1104.6 438.1M1009.9 565.6C1034.8 534.4 1054.8 505.0 1101.6 443.0M1014.9 565.8C1038.1 541.0 1055.4 515.1 1100.5 450.2M1022.6 564.9C1048.3 531.3 1072.5 495.4 1101.2 458.0M1029.0 565.5C1048.4 541.5 1065.7 516.2 1103.2 466.3M1034.4 565.1C1053.0 544.4 1071.2 517.0 1104.1 474.5M1039.4 564.9C1054.4 542.9 1070.7 524.2 1101.8 479.1M1044.7 565.6C1055.5 550.4 1069.2 532.9 1102.8 489.6M1048.7 564.6C1062.6 548.1 1076.4 528.4 1102.3 494.8M1054.2 565.3C1066.2 551.6 1075.4 536.7 1103.6 500.6M1060.2 564.5C1076.8 542.4 1092.3 521.5 1101.7 509.9M1064.9 565.9C1079.1 548.4 1092.0 531.4 1102.8 518.3M1071.2 567.7C1082.1 554.9 1089.3 542.3 1104.1 526.9M1076.5 565.0C1083.3 555.7 1094.1 542.3 1102.6 531.3M1082.8 564.7C1091.5 554.7 1097.3 545.9 1103.4 537.1M1085.8 564.4C1091.9 559.8 1097.8 550.5 1101.5 544.5M1093.9 566.3C1097.7 561.1 1101.4 557.4 1104.4 553.1M1098.5 565.7C1099.8 563.6 1101.4 561.1 1102.6 560.0" fill="none" stroke="#e9f4e9" stroke-width="3.10" stroke-linecap="round"/>
<path d="M654.0 320.1Q879.8 318.9 1105.5 319.3M1102.5 318.5Q1103.9 443.5 1103.3 568.5M1106.0 565.8Q880.9 565.9 655.7 564.0M655.6 567.2Q655.6 443.0 658.0 318.8" fill="none" stroke="#65ac57" stroke-width="2.20" stroke-linecap="round"/>
<path d="M657.0 320.0Q880.0 320.9 1103.0 319.8M1102.8 320.0Q1102.2 443.0 1102.9 566.0M1104.0 566.0Q900.0 566.2 656.3 566.9M656.0 566.0Q657.2 443.0 657.6 320.0" fill="none" stroke="#65ac57" stroke-width="1.60" stroke-linecap="round"/>
<text transform="translate(1078.35 91.00) scale(0.9266 1)" fill="#060a14" stroke="#060a14" stroke-width="0.55">MCP Server Runtime</text>
<text transform="translate(1089.99 130.30) scale(0.9531 1)" fill="#060a14" stroke="#060a14" stroke-width="0.55">(separate process)</text>
<text transform="translate(793.00 347.50) scale(0.9245 1)" fill="#060a14" stroke="#060a14" stroke-width="0.55">Agent Sandbox</text>
<text transform="translate(786.21 387.10) scale(0.9462 1)" fill="#060a14" stroke="#060a14" stroke-width="0.55">(CWD enforced)</text>
<rect x="487.5" y="134" width="105.0" height="80" fill="#ffffff" fill-opacity="0.5"/>
<text transform="translate(487.60 162.60) scale(1.0485 1)" fill="#333333" stroke="#333333" stroke-width="0.55">tool call:</text>
<text transform="translate(495.82 202.50) scale(0.9784 1)" fill="#333333" stroke="#333333" stroke-width="0.55">git_add</text>
<text transform="translate(1462.80 162.70) scale(0.9500 1)" fill="#333333" stroke="#333333" stroke-width="0.55">reads</text>
<text transform="translate(1444.02 202.60) scale(0.9825 1)" fill="#333333" stroke="#333333" stroke-width="0.55">any path</text>
<rect x="487.5" y="384" width="105.0" height="40" fill="#ffffff" fill-opacity="0.5"/>
<text transform="translate(485.97 411.70) scale(1.0146 1)" fill="#333333" stroke="#333333" stroke-width="0.55">read_file</text>
<rect x="466" y="456" width="148" height="80" fill="#ffffff" fill-opacity="0.5"/>
<text transform="translate(485.85 485.00) scale(0.8266 1)" fill="#333333" stroke="#333333" stroke-width="0.55">BLOCKED</text>
<text transform="translate(465.38 524.70) scale(0.9244 1)" fill="#333333" stroke="#333333" stroke-width="0.55">outside CWD</text>
<path d="M331.5 338 C 362 313, 395 287, 429 261.5 C 465 235, 500 214, 542 193.5 C 570 181, 600 175.5, 640 174.3 C 680 173.6, 705 174.8, 730 174.8" fill="none" stroke="#333333" stroke-width="5.83"/>
<path d="M332.5 337 C 363 312.5, 396 286.5, 430 260.8 C 466 234.6, 501 213.5, 543 193.2 C 571 181.4, 601 175.8, 641 174.8 C 681 174.3, 706 175.2, 730 175.0" fill="none" stroke="#333333" stroke-width="4.08"/>
<path d="M728.1 182.6L738.6 175.4L728.1 168.2Z" fill="#333333" stroke="#333333" stroke-width="1.6" stroke-linejoin="round"/>
<path d="M727.9 169.8C728.5 169.6 728.6 169.6 729.2 169.1M728.1 174.0C729.0 172.4 729.9 172.3 731.1 169.9M728.9 177.2C730.5 175.4 732.7 174.4 732.7 171.2M728.1 180.7C729.8 179.2 732.7 177.9 736.2 174.6M735.4 178.4C736.0 177.1 736.6 176.3 738.0 174.7" fill="none" stroke="#333333" stroke-width="2.00" stroke-linecap="round"/>
<path d="M726.7 183.6C730.0 179.8 731.8 180.3 739.8 173.9M727.8 183.2C732.4 180.2 735.8 177.6 737.9 175.6M739.0 174.3C735.0 175.1 733.7 173.9 729.4 167.8M738.8 175.5C735.7 174.1 732.5 171.1 728.5 167.8M728.3 166.4C728.0 172.2 726.5 176.1 728.6 181.0M727.8 168.6C728.5 172.0 727.3 177.9 729.0 182.1" fill="none" stroke="#333333" stroke-width="2.60" stroke-linecap="round"/>
<path d="M1020.5 172.5C1073.9 175.1 1129.6 173.1 1172.6 174.2M1018.2 175.0C1075.7 174.1 1131.5 172.8 1171.0 174.9" fill="none" stroke="#333333" stroke-width="1.67" stroke-linecap="round"/>
<path d="M1172.2 181.8L1183.4 174.8L1172.2 167.8Z" fill="#333333" stroke="#333333" stroke-width="1.6" stroke-linejoin="round"/>
<path d="M1172.2 169.8C1172.7 169.4 1172.7 169.0 1173.2 168.4M1172.6 172.9C1173.2 172.1 1175.1 171.1 1176.1 169.4M1171.3 177.9C1174.7 175.4 1175.2 174.4 1178.0 172.1M1171.2 180.1C1175.3 177.1 1175.3 176.6 1179.5 172.9M1178.6 177.7C1180.1 176.0 1182.0 174.6 1182.5 174.7" fill="none" stroke="#333333" stroke-width="2.00" stroke-linecap="round"/>
<path d="M1173.1 182.2C1173.8 179.8 1176.1 178.7 1181.8 175.5M1173.0 181.0C1176.0 179.9 1181.1 176.3 1184.2 175.0M1183.2 173.6C1179.0 173.8 1174.7 167.9 1170.6 166.7M1182.7 175.6C1179.3 171.7 1174.7 169.0 1171.6 168.1M1171.3 169.6C1170.7 171.1 1173.0 173.9 1174.0 181.7M1172.1 167.3C1172.9 171.9 1172.2 173.9 1171.8 181.3" fill="none" stroke="#333333" stroke-width="2.20" stroke-linecap="round"/>
<path d="M1404.0 173.5C1458.4 175.3 1511.3 173.6 1577.6 177.0M1405.1 174.8C1464.2 174.7 1524.4 173.1 1575.9 175.4" fill="none" stroke="#333333" stroke-width="1.67" stroke-linecap="round"/>
<path d="M1574.5 169.4C1574.6 169.4 1575.1 169.0 1575.2 168.6M1574.2 173.1C1575.7 171.4 1576.7 170.5 1577.5 169.4M1575.3 175.4C1576.7 174.6 1577.3 172.8 1580.3 171.2M1573.9 177.8C1576.1 177.4 1577.1 175.8 1581.2 171.6M1573.5 183.4C1575.7 180.4 1580.7 175.7 1584.6 172.8M1583.9 176.3C1584.7 176.0 1584.7 175.3 1585.8 174.5" fill="none" stroke="#333333" stroke-width="2.00" stroke-linecap="round"/>
<path d="M1576.3 180.8C1579.0 179.1 1579.3 179.2 1587.7 174.0M1574.7 181.8C1578.5 178.8 1583.9 177.3 1585.6 173.8M1585.3 174.9C1582.6 171.8 1576.4 167.8 1575.7 166.4M1586.6 175.4C1582.8 173.0 1578.3 170.4 1573.6 168.6M1575.6 169.8C1574.2 171.7 1575.5 175.4 1574.2 182.0M1575.1 168.3C1574.4 171.0 1573.8 174.2 1575.5 183.1" fill="none" stroke="#333333" stroke-width="1.90" stroke-linecap="round"/>
<path d="M424.2 404.2 C 500 404.6, 560 403.6, 605 403.4 C 640 404, 662 408, 686 410.6" fill="none" stroke="#333333" stroke-width="1.67"/>
<path d="M425 404.6 C 500 404.0, 560 404.2, 606 403.9 C 641 404.6, 663 408.4, 686 411.0" fill="none" stroke="#333333" stroke-width="1.00"/>
<path d="M685.2 406.4C686.0 405.6 686.8 404.7 687.9 404.1M684.7 414.0C687.4 412.6 690.1 409.0 690.4 407.8M691.1 414.9C692.5 412.8 693.5 412.2 696.2 410.7" fill="none" stroke="#333333" stroke-width="1.60" stroke-linecap="round"/>
<path d="M684.7 419.3C685.9 415.0 692.4 413.1 698.0 410.1M683.8 417.0C688.2 415.4 693.4 412.7 698.3 412.1M696.9 413.3C695.6 408.9 692.2 407.3 684.1 404.3M697.4 412.7C694.6 410.8 693.3 408.2 686.4 402.2M685.5 403.1C684.6 406.2 685.1 412.4 683.4 418.5M685.8 402.1C684.4 405.7 685.3 408.9 683.3 418.1" fill="none" stroke="#333333" stroke-width="1.90" stroke-linecap="round"/>
<path d="M697.5 488.3 C 680 491.5, 660 494, 643.3 495.8 C 625 495.6, 605 494.6, 586.7 493.8 C 570 492.8, 555 492.6, 541.7 490.8 C 532 488.5, 525 486.3, 516.7 484.2 C 505 481.6, 497 480.2, 486.7 478.2 C 470 473.5, 455 469, 438.5 464.8" fill="none" stroke="#333333" stroke-width="1.67" stroke-dasharray="4.8 1.9"/>
<path d="M425.2 462.9C425.5 462.3 426.0 461.9 426.9 460.8M427.3 465.3C428.5 462.8 429.4 463.1 431.5 460.0M430.0 467.8C431.9 463.4 432.5 463.6 437.5 457.8M431.3 469.5C433.0 467.0 435.1 464.6 438.7 463.2M433.8 470.1C434.9 469.9 435.4 468.9 436.3 467.2" fill="none" stroke="#333333" stroke-width="2.00" stroke-linecap="round"/>
<path d="M438.7 459.6C436.8 457.8 430.8 458.7 424.9 463.5M438.3 458.8C435.4 458.3 431.9 459.3 424.1 461.5M422.7 460.0C425.9 464.7 430.1 468.9 435.4 473.0M423.6 461.4C428.7 466.4 432.7 471.0 434.4 472.8M437.1 473.1C438.0 469.1 435.9 467.2 439.0 456.7M434.7 471.4C436.8 467.6 437.2 463.1 439.7 458.7" fill="none" stroke="#333333" stroke-width="1.70" stroke-linecap="round"/>
<path d="M70.8 344.6C71.4 342.9 72.6 341.2 73.2 340.2M69.5 352.5C72.2 347.4 74.9 343.2 76.5 340.4M70.7 361.0C76.3 352.2 80.6 346.0 83.4 339.6M69.8 367.8C75.3 361.2 82.9 350.9 89.0 340.5M71.2 375.5C74.9 365.9 82.0 359.7 95.2 342.0M68.3 383.7C80.6 369.8 91.0 352.8 99.3 338.7M72.3 393.8C79.2 379.3 91.0 364.5 106.8 340.4M68.3 402.0C86.0 375.3 100.1 354.0 107.6 340.1M71.4 409.8C83.7 391.9 93.8 376.4 114.1 339.2M69.4 417.6C81.8 400.6 93.0 381.6 118.6 340.0M68.6 425.6C83.4 402.3 96.0 378.7 125.1 340.9M71.4 434.3C86.9 411.9 98.4 386.1 129.1 339.7M71.5 442.0C93.1 408.1 116.6 372.8 133.8 341.3M68.6 451.5C88.0 418.3 108.0 386.8 139.7 340.4M71.0 460.1C94.6 425.3 113.6 391.3 146.9 340.3M70.1 466.2C97.1 429.1 123.6 388.8 152.9 341.0M73.1 467.2C95.2 434.2 115.1 400.2 154.9 341.3M81.9 469.0C101.4 433.8 122.7 400.8 162.5 342.5M85.6 467.3C105.7 437.4 123.7 408.9 166.4 341.7M91.0 466.8C121.3 416.9 152.5 368.3 171.4 338.8M98.0 470.6C115.3 441.4 131.3 416.5 176.8 340.1M102.3 469.5C128.7 427.9 155.5 384.5 180.0 341.4M106.3 467.7C134.9 424.4 158.9 381.5 183.9 339.1M112.3 470.3C133.9 428.0 160.8 391.3 192.2 341.5M113.9 469.6C143.6 422.0 170.3 380.1 196.2 341.0M121.1 466.8C148.3 420.4 181.0 370.6 199.0 340.2M124.1 469.6C142.4 437.5 163.1 406.8 204.5 338.7M129.3 469.7C147.9 439.3 167.6 408.0 212.1 341.0M137.4 467.2C158.2 435.7 175.6 400.2 215.5 341.7M140.5 468.9C165.2 433.8 189.0 393.5 220.7 339.5M147.2 467.7C178.5 420.8 209.0 371.2 225.3 338.9M151.8 468.4C168.5 438.6 187.8 406.6 232.3 340.9M156.6 466.6C177.7 434.5 199.6 400.2 236.5 342.1M159.5 469.3C183.3 432.4 208.1 392.2 241.9 340.3M167.3 468.6C194.5 426.4 223.2 382.3 247.4 341.9M170.2 467.7C186.6 443.6 205.7 414.1 251.8 339.1M176.1 466.4C202.3 423.0 231.3 380.3 256.4 339.0M180.2 467.4C200.1 436.0 220.7 403.9 260.7 340.5M188.1 469.7C214.5 423.7 246.0 374.1 267.9 341.0M191.3 470.6C213.4 434.3 231.3 401.9 273.4 341.6M198.0 469.1C217.7 440.1 238.0 409.2 280.1 342.3M203.8 469.4C226.2 429.4 251.6 388.4 281.0 340.3M209.0 467.5C224.3 441.5 241.9 413.6 289.4 341.7M214.4 470.2C239.5 427.7 262.7 387.1 294.2 342.0M217.2 470.8C248.9 424.4 276.5 377.1 300.3 340.4M220.4 467.8C237.7 441.9 256.7 412.9 300.9 339.4M228.3 468.3C260.3 419.6 290.8 370.3 306.9 341.5M232.2 467.4C256.4 428.4 281.8 387.7 313.1 341.6M240.0 469.7C259.1 439.5 280.5 407.2 318.2 342.0M243.0 467.1C270.6 423.3 294.6 380.2 323.3 340.2M247.7 468.4C275.7 424.1 306.5 377.1 329.4 340.1M250.8 467.9C272.2 435.6 291.3 404.3 331.5 340.0M260.1 467.4C290.1 421.2 317.6 374.1 340.0 340.4M264.0 471.0C285.2 436.8 306.3 401.9 345.8 341.1M269.3 468.3C296.3 422.5 327.1 374.6 347.9 338.3M273.8 469.8C293.7 433.7 315.9 396.6 352.8 341.4M277.7 467.8C299.5 433.4 322.1 397.6 358.8 341.2M282.9 467.4C306.3 432.6 327.8 395.5 365.9 339.1M289.4 470.5C307.9 436.8 330.9 404.4 371.4 342.7M293.5 468.1C322.2 424.3 347.6 384.1 375.3 342.8M299.3 469.2C323.9 431.9 346.2 396.4 382.1 340.4M305.4 468.3C337.2 421.5 368.0 369.0 384.0 341.6M309.0 470.3C332.8 431.6 351.8 398.6 388.7 339.1M316.1 469.2C340.0 432.4 363.0 392.6 397.1 342.4M319.8 468.4C337.2 439.0 357.1 412.8 399.1 341.4M323.1 467.8C355.7 418.5 387.1 371.0 405.0 339.9M329.5 468.0C359.0 426.3 385.0 380.1 411.5 339.5M335.9 466.8C365.3 423.7 393.5 378.0 416.6 341.5M342.6 469.0C359.3 440.5 375.8 415.0 422.1 339.7M345.7 469.3C374.0 425.1 402.5 379.0 423.7 340.5M352.2 469.0C367.6 444.5 383.4 415.1 427.5 348.9M356.1 469.7C378.9 432.8 402.1 395.6 424.4 358.6M358.8 469.5C382.0 431.3 405.2 395.5 425.0 365.2M367.1 468.6C389.0 436.0 409.0 402.5 424.7 374.0M372.7 467.8C386.9 443.3 403.4 417.7 425.9 384.5M374.3 469.1C389.3 444.3 406.7 420.9 423.3 388.6M383.7 470.6C398.6 445.2 413.0 423.5 427.8 400.4M383.7 467.9C393.7 451.9 405.5 436.3 423.8 406.1M391.3 467.6C401.6 453.0 414.6 437.1 427.5 416.1M398.3 470.1C408.2 454.0 418.0 437.9 426.2 424.4M401.2 467.1C411.5 453.0 418.2 438.8 425.7 431.8M406.6 467.7C413.4 457.8 420.2 450.0 426.5 441.3M410.5 469.3C414.7 461.9 418.7 457.0 424.2 448.0M415.8 468.4C417.4 465.7 420.2 463.6 423.5 454.6M421.8 468.2C422.3 467.0 423.1 465.7 424.4 463.8" fill="none" stroke="#ececfd" stroke-width="3.60" stroke-linecap="round"/>
<path d="M67.2 340.6Q246.4 341.2 425.6 339.9M425.4 339.5Q425.8 404.4 425.3 469.2M425.8 468.6Q246.9 466.9 68.0 468.8M71.0 470.3Q71.2 404.4 70.2 338.4" fill="none" stroke="#8d71d4" stroke-width="2.20" stroke-linecap="round"/>
<path d="M70.0 340.9Q247.5 340.1 425.0 340.6M424.9 340.0Q423.2 404.2 423.9 468.5M424.0 469.0Q250.0 470.0 70.5 469.6M70.8 469.0Q70.0 405.0 70.8 341.0" fill="none" stroke="#8d71d4" stroke-width="1.50" stroke-linecap="round"/>
<text transform="translate(197.90 392.70) scale(0.9490 1)" fill="#333333" stroke="#333333" stroke-width="0.55">AI Agent</text>
<text transform="translate(120.49 432.30) scale(0.9557 1)" fill="#333333" stroke="#333333" stroke-width="0.55">(Codex/Claude Code)</text>
<path d="M741.0 139.4C742.4 136.7 743.6 135.4 746.3 131.1M742.4 157.3C745.3 150.5 748.1 144.2 755.3 131.4M742.4 174.2C749.1 163.2 753.9 154.4 765.3 129.7M742.3 193.1C752.9 174.7 761.5 158.7 776.4 131.4M743.6 209.5C754.3 189.2 766.8 165.1 788.7 132.9M744.2 219.8C765.6 185.0 782.4 154.0 795.0 130.2M753.7 217.4C766.8 197.0 780.0 176.6 805.9 129.5M766.5 220.4C783.2 189.7 801.7 156.3 814.5 129.2M775.6 217.3C793.1 185.4 813.4 154.9 828.6 131.8M787.1 220.4C802.2 191.7 814.4 169.3 835.5 130.8M794.1 221.0C814.1 185.1 832.0 150.8 847.0 129.9M806.7 220.3C822.2 191.3 835.5 167.3 857.2 130.8M815.6 217.3C835.2 184.0 854.6 153.1 865.3 129.3M823.7 218.3C845.5 183.1 867.7 147.7 876.1 129.3M833.5 217.1C849.7 197.3 860.6 171.3 888.4 132.0M847.5 219.0C866.4 184.4 886.3 151.1 899.0 129.9M857.2 220.6C873.5 187.3 889.0 158.9 908.1 132.4M864.0 217.9C886.2 186.6 906.5 152.0 918.5 132.7M874.2 218.7C894.7 186.7 911.2 158.1 925.8 129.0M883.9 220.4C895.2 199.6 907.6 181.8 938.3 131.8M896.4 217.8C913.6 188.6 931.9 155.9 945.0 128.6M905.6 218.7C923.3 192.7 939.5 164.1 956.0 131.3M914.6 218.6C927.2 195.6 941.4 171.6 967.3 130.1M925.4 221.3C942.6 188.2 959.3 159.6 976.1 132.5M936.1 220.3C957.4 182.5 974.8 149.7 986.3 132.8M946.3 220.5C957.6 200.4 969.9 176.9 998.3 129.6M955.8 218.9C969.6 197.5 979.3 177.3 1008.8 133.0M963.7 218.3C978.4 194.3 993.0 171.6 1017.5 129.5M975.2 218.6C986.3 202.6 997.4 184.8 1018.5 149.3M984.4 221.2C996.2 200.4 1007.4 183.8 1018.9 163.6M997.6 219.7C1005.7 206.8 1012.2 188.6 1018.4 184.4M1005.4 218.3C1008.3 214.9 1012.4 208.8 1016.1 199.8M1016.1 219.2C1016.3 218.9 1016.6 218.4 1017.2 217.1" fill="none" stroke="#ececfd" stroke-width="6.00" stroke-linecap="round"/>
<path d="M741.5 130.8Q879.1 130.9 1016.8 130.9M1016.8 130.0Q1018.1 174.6 1018.3 219.2M1019.0 218.0Q880.0 220.8 740.0 218.2M741.0 220.3Q741.8 173.7 741.8 127.0" fill="none" stroke="#8d71d4" stroke-width="2.20" stroke-linecap="round"/>
<path d="M741.6 131.3Q940.0 130.9 1015.6 127.6M1017.7 131.0Q1017.4 174.8 1016.0 218.6M1019.0 218.7Q880.0 221.7 740.3 220.4M740.7 219.0Q740.5 175.0 741.4 131.0" fill="none" stroke="#8d71d4" stroke-width="1.50" stroke-linecap="round"/>
<text transform="translate(789.85 182.80) scale(0.9268 1)" fill="#333333" stroke="#333333" stroke-width="0.55">MCP Git Server</text>
<path d="M1185.9 138.7C1188.0 136.0 1191.0 134.2 1192.1 131.0M1184.5 152.4C1188.5 147.7 1194.3 144.5 1204.1 132.1M1187.9 167.2C1193.7 156.8 1200.6 147.8 1219.0 132.9M1184.8 180.7C1200.1 162.5 1217.7 145.5 1230.7 132.3M1186.8 195.6C1206.6 169.4 1230.0 143.3 1242.5 130.7M1187.8 209.5C1206.5 187.2 1224.6 163.6 1254.2 131.9M1187.7 221.1C1210.5 196.6 1231.7 171.9 1267.8 129.8M1202.6 221.1C1216.0 200.8 1233.3 181.3 1276.4 132.8M1212.4 221.4C1236.7 193.9 1256.8 169.2 1290.3 131.6M1227.1 221.0C1248.0 196.3 1271.7 167.3 1303.0 129.1M1236.7 218.2C1262.3 195.0 1283.0 166.1 1313.3 132.9M1249.2 219.4C1277.3 189.5 1306.5 157.6 1328.2 131.2M1264.3 222.1C1286.3 189.6 1314.0 161.8 1338.9 132.8M1276.0 220.5C1293.3 202.5 1307.0 182.7 1351.9 130.0M1285.9 219.9C1306.5 195.8 1328.4 171.4 1364.0 129.3M1299.7 221.9C1330.9 185.9 1358.5 148.7 1378.1 130.9M1312.8 222.6C1339.8 186.8 1366.8 154.2 1391.4 132.2M1321.7 219.1C1347.9 195.1 1370.3 167.1 1401.9 129.5M1337.8 221.1C1352.8 203.7 1368.2 185.7 1403.1 144.1M1349.6 220.7C1362.7 203.4 1381.2 185.3 1402.7 157.9M1361.0 218.4C1371.8 203.6 1386.0 189.1 1400.2 172.4M1371.2 219.2C1386.3 208.3 1396.8 193.5 1400.9 185.8M1385.4 221.8C1391.1 215.2 1394.0 209.3 1401.6 202.1M1397.7 220.6C1399.3 219.1 1399.8 218.4 1402.1 215.5" fill="none" stroke="#ececfd" stroke-width="6.50" stroke-linecap="round"/>
<path d="M1184.8 131.3Q1294.7 131.2 1404.6 131.0M1400.2 131.4Q1402.1 176.3 1402.0 221.2M1404.0 221.0Q1350.5 221.0 1308.8 219.9Q1267.0 218.9 1183.2 220.6M1185.4 221.0Q1186.3 174.0 1186.4 127.0" fill="none" stroke="#8d71d4" stroke-width="2.20" stroke-linecap="round"/>
<path d="M1186.0 131.4Q1300.0 129.8 1405.0 127.2M1403.4 131.0Q1403.2 176.0 1402.3 221.0M1403.0 220.6Q1300.0 220.2 1184.0 220.9M1185.9 220.0Q1185.4 175.5 1186.0 131.0" fill="none" stroke="#8d71d4" stroke-width="1.50" stroke-linecap="round"/>
<text transform="translate(1235.72 182.50) scale(0.9780 1)" fill="#333333" stroke="#333333" stroke-width="0.55">GitPython</text>
<path d="M699.2 412.0C699.8 408.3 703.4 405.7 704.6 404.0M698.7 411.2C700.7 409.1 702.3 406.7 704.3 404.1M700.8 423.9C701.9 423.2 705.1 419.0 713.5 406.3M698.9 425.8C703.4 422.4 704.6 416.6 713.9 403.9M695.1 441.8C706.1 425.1 717.9 418.5 727.3 404.7M700.1 440.2C708.4 430.3 716.8 418.1 726.4 405.2M698.4 450.5C714.5 435.4 731.0 416.6 735.9 404.8M697.0 454.3C712.7 432.7 728.2 413.5 735.7 403.2M695.5 467.7C715.2 445.4 733.0 420.1 748.2 401.1M699.0 469.3C717.3 443.5 735.0 419.6 749.3 404.7M701.9 481.4C709.1 464.3 725.9 442.7 758.2 407.2M699.9 481.0C712.6 466.8 722.6 449.8 757.9 405.4M696.0 494.2C722.8 462.7 749.5 433.6 771.6 407.7M697.8 495.8C721.3 467.5 745.0 437.8 769.2 403.2M707.4 493.5C732.1 465.3 758.9 430.3 777.6 402.7M711.5 494.7C731.7 467.7 758.2 437.9 779.6 404.0M723.5 498.9C740.9 473.0 758.1 443.7 793.6 407.5M720.9 493.8C741.9 467.2 763.6 442.4 790.6 403.6M734.6 497.9C758.0 463.3 780.3 426.2 799.7 401.0M733.1 496.5C754.3 467.0 774.1 441.9 802.7 405.0M745.9 494.4C758.5 476.5 773.9 454.3 813.9 401.2M742.2 494.3C762.3 469.6 783.2 444.7 816.0 402.9M754.4 497.2C767.6 477.0 788.1 455.9 823.3 402.0M754.0 493.9C780.7 460.4 808.8 423.9 826.8 403.1M765.6 493.5C789.3 466.2 811.8 429.7 834.0 407.1M765.9 495.2C782.3 476.1 796.6 453.7 837.0 404.7M777.7 494.1C789.8 474.1 805.2 457.0 848.8 406.9M775.6 494.1C792.2 475.9 805.6 453.1 846.6 403.8M785.4 498.9C804.7 466.8 823.8 440.0 861.4 404.5M786.5 494.9C813.9 458.5 844.1 425.3 859.9 403.3M795.7 498.3C827.1 465.2 846.5 429.8 871.3 404.8M798.3 497.3C819.6 467.5 840.1 441.4 869.9 406.0M808.4 496.8C836.9 459.5 863.4 428.2 879.4 403.8M809.0 494.0C838.6 462.8 864.1 425.7 880.9 405.7M821.8 494.6C838.1 473.3 859.6 446.5 889.4 403.3M819.0 496.0C836.2 477.7 851.7 456.0 890.7 405.5M828.5 496.4C855.1 468.5 875.0 439.2 899.3 401.7M832.4 495.7C856.5 463.0 882.9 430.7 902.4 402.9M841.6 496.2C865.8 464.0 894.9 428.0 916.4 402.9M841.1 494.4C862.7 472.2 881.1 447.8 912.6 403.8M851.0 498.3C877.5 467.3 902.6 436.2 924.5 403.7M852.0 496.7C874.4 465.1 898.8 433.4 924.5 403.0M865.8 495.8C890.6 460.7 915.4 428.5 932.6 405.1M864.5 494.4C892.1 461.8 917.9 425.0 935.1 404.9M873.2 499.0C899.1 466.0 916.5 435.7 945.6 400.7M874.4 494.7C896.7 466.9 919.1 435.5 944.6 405.9M887.2 499.2C904.6 469.5 923.2 445.6 957.1 404.6M887.6 496.5C902.8 470.1 922.6 446.4 956.1 403.1M896.7 493.5C921.8 465.5 950.1 431.0 967.6 406.1M896.7 496.7C912.2 473.9 930.1 453.0 969.8 404.1M911.2 494.9C927.9 472.7 944.3 448.2 982.3 401.7M906.5 497.2C929.4 468.9 952.6 442.0 979.1 404.3M917.6 496.3C938.9 474.6 955.4 451.9 993.8 404.2M917.9 496.8C937.5 469.3 958.3 445.4 991.2 403.2M933.2 492.7C956.9 467.2 977.2 431.6 1001.7 407.9M929.2 497.1C948.1 473.9 965.4 448.7 1002.2 405.4M944.5 497.5C963.6 468.8 985.3 441.8 1011.8 405.5M940.2 494.9C962.1 468.8 985.1 439.5 1011.1 404.2M952.6 492.9C973.6 466.0 1002.4 431.6 1024.9 406.1M951.4 495.6C971.3 472.6 992.6 447.0 1024.7 404.7M959.8 499.1C979.5 469.5 1002.4 447.2 1036.0 400.7M962.0 495.3C978.9 477.3 992.2 456.5 1033.0 403.1M973.3 497.7C988.2 476.5 1005.1 449.7 1041.9 402.3M975.8 495.6C987.4 478.2 1002.1 457.8 1044.6 403.4M986.9 492.1C1008.4 467.3 1027.1 437.6 1055.2 402.9M984.2 494.4C1010.0 460.7 1034.2 429.4 1058.1 405.5M994.5 493.7C1014.6 475.9 1027.2 453.2 1058.1 409.7M996.3 495.0C1011.5 472.1 1032.4 450.4 1062.6 411.1M1009.7 493.7C1027.9 474.3 1045.0 443.0 1061.8 424.2M1006.0 495.2C1018.7 477.5 1032.5 461.4 1062.2 427.5M1020.4 492.0C1035.3 473.3 1051.3 450.1 1058.0 439.8M1018.3 495.7C1030.1 479.8 1043.8 463.0 1060.9 438.4M1027.8 494.2C1038.3 486.4 1047.4 468.4 1062.8 456.9M1029.3 496.5C1038.5 481.5 1050.1 466.3 1061.2 453.9M1037.0 498.4C1044.2 487.3 1048.2 486.7 1063.6 469.8M1039.9 496.0C1045.4 490.2 1049.6 481.9 1063.0 468.6M1049.6 495.7C1054.1 491.9 1055.3 488.3 1063.1 483.0M1051.2 495.5C1054.0 492.0 1056.3 489.8 1062.4 482.4" fill="none" stroke="#ececfd" stroke-width="3.55" stroke-linecap="round"/>
<path d="M699.4 416.8C702.2 415.4 705.3 409.9 708.8 404.5M699.5 419.3C701.7 416.1 704.3 412.0 710.4 404.3M701.6 429.5C704.9 426.2 705.1 422.3 722.0 403.3M698.9 433.7C706.1 423.6 711.3 413.6 719.8 404.5M697.1 449.9C708.4 433.5 709.9 428.0 732.7 405.9M697.0 446.3C706.6 436.5 718.1 424.3 730.0 402.5M699.4 458.3C709.9 441.7 726.1 427.4 745.4 405.2M699.8 460.7C711.6 445.4 726.0 427.3 742.5 405.8M699.8 477.4C712.3 454.0 732.1 431.6 756.5 402.8M698.4 475.7C720.0 447.7 738.3 423.5 754.1 405.5M696.6 486.6C716.7 463.6 743.8 438.4 764.3 405.2M698.7 487.5C725.8 455.5 752.1 422.4 764.5 403.8M708.0 492.3C731.6 463.9 761.8 423.2 773.9 404.0M703.3 497.3C722.0 471.9 742.2 447.8 774.8 403.6M715.9 494.2C746.0 456.4 769.3 423.7 784.2 408.0M716.7 494.9C737.7 467.6 759.9 437.9 788.0 403.3M726.1 494.0C742.8 472.7 762.5 445.6 799.2 406.3M726.4 495.7C756.2 458.4 783.7 425.1 797.8 405.1M736.1 492.9C758.2 463.9 781.7 436.8 809.7 404.6M739.3 495.2C760.8 462.8 788.6 433.2 808.1 404.4M748.5 492.5C771.8 466.5 793.8 433.2 816.2 402.5M748.6 494.3C772.4 463.7 793.8 435.8 819.4 403.5M759.7 499.2C776.6 479.5 785.9 458.2 828.7 401.6M759.6 495.7C778.6 472.4 798.6 447.9 829.8 406.0M767.0 494.0C797.7 468.7 815.9 432.5 839.8 407.4M771.8 495.5C794.6 463.3 822.2 433.4 842.3 403.4M782.6 497.5C810.4 465.2 838.8 429.2 851.5 404.9M782.5 495.6C804.4 467.7 826.7 437.1 852.6 402.8M792.8 493.6C810.0 473.2 825.3 456.5 866.4 404.4M790.8 493.8C813.7 467.2 835.2 441.3 862.6 402.9M800.5 498.8C829.8 461.2 849.4 430.9 874.2 401.1M803.4 497.3C820.1 469.3 841.2 446.0 874.7 403.1M813.8 495.6C838.1 461.7 866.6 431.2 887.5 405.5M815.4 497.1C838.2 465.5 861.9 431.8 887.2 404.5M826.3 493.0C855.1 457.5 885.2 424.9 899.5 406.4M826.3 496.1C839.6 479.1 853.6 457.8 896.9 406.1M834.0 496.4C855.3 475.2 867.7 450.5 909.0 400.7M836.1 495.6C850.3 475.3 867.0 456.0 907.6 404.3M844.6 495.1C864.4 473.8 879.9 451.3 919.3 403.9M846.1 495.5C866.5 472.1 886.8 447.3 917.7 403.9M856.6 494.0C877.5 471.2 900.7 443.4 927.2 403.9M860.2 494.8C880.5 471.1 900.8 443.5 931.0 404.3M869.1 496.3C895.0 460.0 921.9 425.5 939.6 408.0M870.1 495.2C888.3 471.5 906.5 449.7 941.0 405.0M882.6 493.6C907.0 460.3 936.1 431.5 953.9 407.9M878.6 496.1C905.5 463.1 933.4 428.3 951.8 405.6M893.9 494.8C922.9 456.5 949.7 421.6 963.2 401.2M891.7 495.8C904.7 474.8 923.4 456.3 963.6 403.7M903.3 496.2C933.2 457.7 956.0 429.7 970.7 407.2M900.7 496.6C917.6 475.3 933.7 455.6 975.4 405.7M910.5 497.9C940.2 466.7 964.3 433.8 983.7 402.7M915.0 493.9C933.3 468.3 952.6 442.3 984.4 404.4M925.7 498.4C943.9 471.2 960.5 447.2 998.6 407.7M922.7 496.1C943.8 471.9 960.9 450.7 996.5 402.8M933.6 493.7C952.5 479.8 965.5 456.8 1006.3 401.7M936.6 496.5C952.3 475.8 964.9 457.3 1006.4 403.7M949.6 497.7C967.2 473.7 981.9 443.4 1020.3 402.6M945.2 493.9C970.3 464.1 994.7 433.8 1019.3 405.0M958.3 494.1C972.1 470.9 992.7 450.2 1031.3 403.5M958.6 497.2C980.7 465.6 1000.7 438.5 1029.1 404.6M967.6 495.6C985.6 471.6 1002.6 451.4 1043.1 405.2M970.0 495.2C991.5 467.2 1012.7 436.2 1040.3 403.9M978.6 494.8C997.1 474.3 1007.6 458.0 1051.6 402.8M978.5 496.2C1006.8 461.5 1031.5 430.1 1050.9 403.5M990.8 494.9C1011.0 465.0 1035.6 442.4 1063.9 407.2M992.2 494.3C1016.3 460.7 1045.0 429.0 1060.2 405.4M1003.5 495.1C1010.9 479.4 1029.0 459.6 1063.8 418.6M1000.7 496.9C1021.7 472.6 1040.0 447.3 1062.8 419.6M1013.8 496.3C1025.8 474.5 1043.0 456.0 1063.9 435.5M1011.9 496.3C1028.1 474.5 1045.8 450.2 1060.1 431.0M1026.6 497.8C1031.1 484.8 1048.0 467.6 1060.4 444.0M1024.9 494.8C1035.6 478.9 1051.5 461.2 1060.3 445.9M1036.6 492.9C1045.8 481.4 1051.6 476.0 1062.7 461.3M1034.6 497.2C1042.2 487.9 1047.5 480.0 1062.9 459.6M1047.4 496.0C1054.2 486.7 1059.2 478.7 1063.3 476.9M1044.4 494.3C1049.9 488.8 1058.3 481.4 1060.3 474.1M1057.2 495.5C1057.9 492.7 1060.3 491.9 1062.2 488.6M1056.6 495.4C1057.9 493.2 1060.1 491.1 1061.1 488.6" fill="none" stroke="#ececfd" stroke-width="3.55" stroke-linecap="round"/>
<path d="M697.6 403.6Q880.7 404.7 1063.8 405.0M1063.4 407.5Q1062.6 440.0 1059.6 496.5M1060.8 494.8Q878.6 495.6 696.5 496.4M700.4 497.5Q700.3 450.2 698.2 403.0" fill="none" stroke="#8d71d4" stroke-width="1.70" stroke-linecap="round"/>
<path d="M698.0 404.0Q880.5 404.2 1063.0 405.1" fill="none" stroke="#8d71d4" stroke-width="1.00" stroke-linecap="round"/>
<text transform="translate(747.07 458.70) scale(0.9285 1)" fill="#333333" stroke="#333333" stroke-width="0.55">Sandboxed File Access</text>
<path d="M1588.6 138.3C1588.8 138.1 1589.2 137.8 1589.8 136.9M1588.5 138.4C1588.9 137.9 1589.2 137.6 1589.8 137.0M1593.0 133.8C1594.7 131.9 1596.9 129.4 1600.6 124.9M1592.3 134.0C1594.5 131.6 1596.3 129.8 1600.8 125.1M1589.0 150.7C1591.1 146.8 1593.8 143.8 1596.8 141.4M1588.3 150.4C1590.9 147.5 1593.3 145.5 1597.1 141.6M1602.7 134.5C1606.9 129.5 1611.5 126.8 1614.9 122.2M1603.8 134.2C1606.7 131.1 1609.3 127.6 1615.6 122.0M1587.2 161.4C1594.8 156.0 1598.6 152.4 1604.5 145.3M1588.4 162.2C1593.0 157.0 1598.3 151.6 1606.1 143.9M1615.6 134.4C1619.6 129.5 1623.2 125.8 1628.6 121.7M1615.3 134.0C1618.4 129.5 1623.1 124.9 1627.5 121.0M1587.5 174.5C1596.8 168.7 1600.7 159.5 1614.8 143.9M1588.9 173.4C1599.6 163.7 1608.3 153.1 1615.8 147.2M1626.7 132.8C1631.1 129.9 1635.4 123.5 1639.2 118.7M1626.9 133.5C1628.8 131.4 1631.6 128.3 1640.1 120.3M1589.6 186.4C1603.5 174.2 1616.8 157.9 1626.0 149.3M1589.3 186.8C1596.7 177.2 1605.9 169.6 1626.1 147.7M1637.3 134.1C1643.4 129.5 1645.6 125.1 1651.4 120.7M1637.7 133.4C1642.3 128.4 1647.9 122.4 1650.3 119.4M1586.2 199.6C1606.9 180.9 1624.9 160.8 1634.6 150.3M1588.8 198.7C1607.1 178.4 1625.7 159.4 1635.1 147.1M1649.3 133.9C1650.8 131.2 1654.2 129.0 1662.1 121.3M1648.3 133.5C1651.8 130.7 1654.7 126.5 1661.5 120.4M1589.6 209.3C1602.8 195.5 1615.3 183.4 1647.8 149.5M1589.3 210.7C1610.3 188.0 1634.0 163.7 1646.5 149.0M1658.8 134.1C1663.9 128.3 1669.2 124.7 1671.5 121.6M1659.4 134.2C1663.3 130.2 1667.9 126.2 1672.2 121.4M1592.9 220.1C1612.4 194.4 1634.8 172.4 1657.3 149.6M1592.5 218.2C1615.5 193.4 1638.3 168.1 1658.4 147.1M1671.6 133.6C1674.2 129.8 1678.5 125.9 1681.2 122.1M1670.8 134.1C1673.4 131.4 1676.5 128.1 1680.9 123.6M1601.4 222.6C1614.4 203.2 1633.1 186.6 1671.7 147.3M1600.4 223.7C1623.6 197.5 1647.2 171.4 1669.6 145.8M1683.0 133.2C1684.6 132.4 1686.3 129.2 1691.0 126.3M1682.6 133.7C1684.9 131.6 1687.3 128.4 1690.4 125.1M1606.6 226.1C1640.7 191.6 1669.1 162.6 1682.6 145.2M1608.1 224.0C1631.1 201.7 1652.7 177.3 1684.8 144.2M1693.8 134.2C1695.6 132.4 1697.1 130.1 1698.4 129.5M1693.3 133.9C1694.6 132.8 1695.9 131.2 1698.2 129.3M1618.2 224.3C1640.9 201.8 1666.5 174.7 1700.7 136.8M1617.5 226.4C1635.9 208.9 1652.4 189.2 1700.9 137.5M1630.6 227.7C1654.9 200.0 1681.9 171.6 1701.6 150.4M1629.6 227.8C1648.7 207.8 1667.9 186.0 1702.5 148.9M1641.2 226.9C1663.4 203.4 1687.1 175.1 1702.2 161.5M1640.4 227.5C1653.8 213.1 1668.6 195.7 1702.2 161.9M1649.4 228.5C1663.3 211.2 1677.7 200.1 1700.2 172.2M1649.7 229.2C1664.6 212.0 1678.2 197.5 1700.8 174.5M1663.2 226.2C1675.8 213.7 1687.6 204.0 1699.4 184.9M1662.4 228.2C1672.8 214.6 1684.3 203.4 1701.4 185.8M1675.5 228.3C1679.1 219.2 1686.3 210.7 1701.0 199.1M1674.7 225.4C1681.9 220.0 1686.8 213.5 1702.4 197.8M1689.7 222.2C1692.8 217.8 1697.2 213.6 1701.9 210.6M1688.6 223.3C1692.8 219.4 1695.6 216.0 1701.3 209.6" fill="none" stroke="#f7d0d4" stroke-width="3.33" stroke-linecap="round"/>
<path d="M1588.5 134.0 A56.5 14.3 0 0 0 1701.5 134.0 A56.5 14.3 0 0 0 1588.5 134.0 L1588.5 214.0 A56.5 14.3 0 0 0 1701.5 214.0 L1701.5 134.0" fill="none" stroke="#8d71d4" stroke-width="2.17" stroke-linecap="round"/>
<path d="M1589.1 133.5 A56.5 14.9 0 0 0 1702.1 133.5 A56.5 14.9 0 0 0 1589.1 133.5 L1589.1 213.5 A56.5 14.9 0 0 0 1702.1 213.5 L1702.1 133.5" fill="none" stroke="#8d71d4" stroke-width="1.30" stroke-linecap="round"/>
<text transform="translate(1601.13 199.70) scale(0.8865 1)" fill="#333333" stroke="#333333" stroke-width="0.55">Host FS</text>
</svg>
</body></html>
